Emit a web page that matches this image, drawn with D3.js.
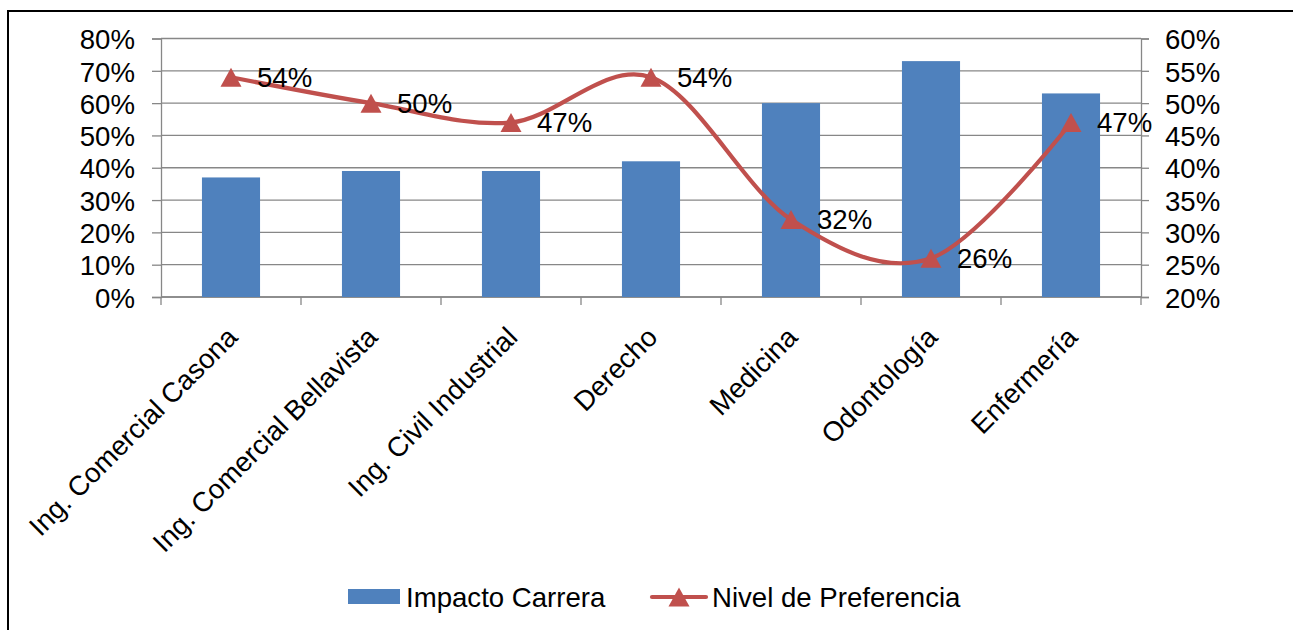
<!DOCTYPE html>
<html>
<head>
<meta charset="utf-8">
<script src="https://cdn.jsdelivr.net/npm/d3@7"></script>
<style>
  html, body { margin: 0; padding: 0; background: #fff; overflow: hidden; }
  svg { display: block; font-family: Arial, "Liberation Sans", sans-serif; }
</style>
</head>
<body>
<svg id="chart" width="1293" height="630"></svg>
<script>
// Carreras evaluadas
const categories = [
  "Ing. Comercial Casona",
  "Ing. Comercial Bellavista",
  "Ing. Civil Industrial",
  "Derecho",
  "Medicina",
  "Odontología",
  "Enfermería"
];
// Impacto Carrera (eje izquierdo)
const impactoCarrera = [0.37, 0.39, 0.39, 0.42, 0.60, 0.73, 0.63];
// Nivel de Preferencia (eje derecho)
const nivelPreferencia = [0.54, 0.50, 0.47, 0.54, 0.32, 0.26, 0.47];
const leftTicks = [0, 0.1, 0.2, 0.3, 0.4, 0.5, 0.6, 0.7, 0.8];
const rightTicks = [0.20, 0.25, 0.30, 0.35, 0.40, 0.45, 0.50, 0.55, 0.60];
const seriesNames = ["Impacto Carrera", "Nivel de Preferencia"];

const barColor = "#4F81BD";
const lineColor = "#C0504D";
const gridColor = "#878787";
const fontSize = 27.6;

const svg = d3.select("#chart");

// outer frame: only the left and top edges fall inside the page
svg.append("path")
  .attr("d", "M8,640V11H1300")
  .attr("fill", "none").attr("stroke", "#000").attr("stroke-width", 2);

const plot = { left: 161, right: 1141, top: 38.5, bottom: 297 };

const x = d3.scaleBand()
  .domain(categories)
  .range([plot.left, plot.right])
  .paddingInner(0.585)
  .paddingOuter(0.2925);
const xBand = d3.scaleBand().domain(categories).range([plot.left, plot.right]);
const yL = d3.scaleLinear().domain([0, 0.8]).range([plot.bottom, plot.top]);
const yR = d3.scaleLinear().domain([0.2, 0.6]).range([plot.bottom, plot.top]);

const pct = d3.format(".0%");

// gridlines
svg.append("g")
  .selectAll("line")
  .data(leftTicks)
  .join("line")
  .attr("x1", plot.left).attr("x2", plot.right)
  .attr("y1", d => yL(d)).attr("y2", d => yL(d))
  .attr("stroke", gridColor).attr("stroke-width", 1.3);

// left axis
const gLeft = svg.append("g")
  .attr("transform", `translate(${plot.left},0)`)
  .call(d3.axisLeft(yL).tickValues(leftTicks).tickFormat(pct).tickSize(9).tickPadding(17));
// right axis
const gRight = svg.append("g")
  .attr("transform", `translate(${plot.right},0)`)
  .call(d3.axisRight(yR).tickValues(rightTicks).tickFormat(pct).tickSize(8).tickPadding(16));
// bottom axis with ticks on category boundaries
const gBottom = svg.append("g")
  .attr("transform", `translate(0,${plot.bottom})`);
gBottom.append("line")
  .attr("x1", plot.left).attr("x2", plot.right)
  .attr("stroke", gridColor).attr("stroke-width", 1.3);
const boundaries = categories.map(c => xBand(c)).concat([plot.right]);
gBottom.selectAll("line.tick")
  .data(boundaries)
  .join("line")
  .attr("class", "tick")
  .attr("x1", d => d).attr("x2", d => d)
  .attr("y1", 0).attr("y2", 8)
  .attr("stroke", gridColor).attr("stroke-width", 1.3);

[gLeft, gRight].forEach(g => {
  g.select(".domain").attr("stroke", gridColor).attr("stroke-width", 1.3);
  g.selectAll(".tick line").attr("stroke", gridColor).attr("stroke-width", 1.3);
  g.selectAll(".tick text")
    .attr("fill", "#000")
    .attr("font-size", fontSize)
    .attr("font-family", "Arial, 'Liberation Sans', sans-serif")
    .attr("dy", "0.37em");
});

// category labels
gBottom.selectAll("text.cat")
  .data(categories)
  .join("text")
  .attr("class", "cat")
  .attr("transform", d => `translate(${xBand(d) + xBand.bandwidth() / 2 + 8},${42}) rotate(-45)`)
  .attr("text-anchor", "end")
  .attr("font-size", fontSize)
  .attr("fill", "#000")
  .text(d => d);

// bars
svg.append("g")
  .selectAll("rect")
  .data(categories)
  .join("rect")
  .attr("x", d => x(d))
  .attr("width", x.bandwidth())
  .attr("y", (d, i) => yL(impactoCarrera[i]))
  .attr("height", (d, i) => plot.bottom - yL(impactoCarrera[i]))
  .attr("fill", barColor);

// smoothed preference line
const cx = d => xBand(d) + xBand.bandwidth() / 2;
const line = d3.line()
  .x((d, i) => cx(categories[i]))
  .y(d => yR(d))
  .curve(d3.curveCardinal.tension(0));
svg.append("path")
  .datum(nivelPreferencia)
  .attr("d", line)
  .attr("fill", "none")
  .attr("stroke", lineColor)
  .attr("stroke-width", 4.2)
  .attr("stroke-linejoin", "round");

const triW = 21, triH = 19;
const triPath = `M0,${-triH / 2}L${triW / 2},${triH / 2}L${-triW / 2},${triH / 2}Z`;
svg.append("g")
  .selectAll("path")
  .data(nivelPreferencia)
  .join("path")
  .attr("d", triPath)
  .attr("transform", (d, i) => `translate(${cx(categories[i])},${yR(d)})`)
  .attr("fill", lineColor);

// data labels
svg.append("g")
  .selectAll("text")
  .data(nivelPreferencia)
  .join("text")
  .attr("x", (d, i) => cx(categories[i]) + 26)
  .attr("y", d => yR(d))
  .attr("dy", "0.36em")
  .attr("font-size", fontSize)
  .attr("fill", "#000")
  .text(d => pct(d));

// legend
const legend = svg.append("g");
legend.append("rect")
  .attr("x", 348).attr("y", 589).attr("width", 52).attr("height", 15)
  .attr("fill", barColor);
legend.append("text")
  .attr("x", 406).attr("y", 597).attr("dy", "0.36em")
  .attr("font-size", fontSize).attr("fill", "#000")
  .text(seriesNames[0]);
legend.append("line")
  .attr("x1", 652).attr("x2", 706).attr("y1", 597).attr("y2", 597)
  .attr("stroke", lineColor).attr("stroke-width", 4.2).attr("stroke-linecap", "round");
legend.append("path")
  .attr("d", triPath)
  .attr("transform", "translate(679,597)")
  .attr("fill", lineColor);
legend.append("text")
  .attr("x", 712).attr("y", 597).attr("dy", "0.36em")
  .attr("font-size", fontSize).attr("fill", "#000")
  .text(seriesNames[1]);
</script>
</body>
</html>
